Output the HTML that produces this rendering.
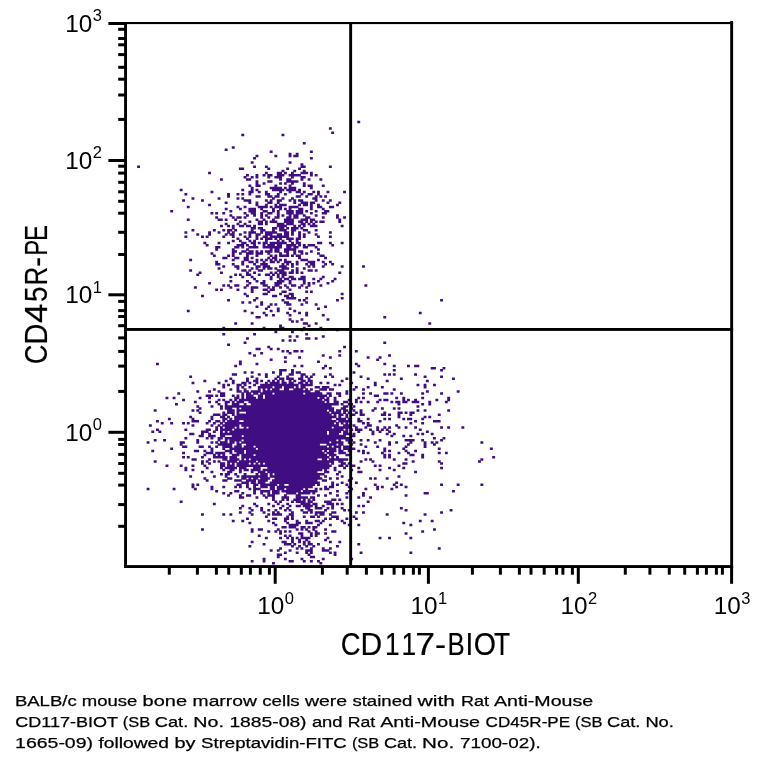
<!DOCTYPE html>
<html lang="en"><head><meta charset="utf-8"><title>CD117-BIOT vs CD45R-PE</title>
<style>
html,body{margin:0;padding:0;background:#fff}
body{width:758px;height:764px;overflow:hidden}
svg{display:block}
text{font-family:"Liberation Sans",sans-serif;fill:#000}
</style></head><body>
<svg width="758" height="764" viewBox="0 0 758 764">
<rect width="758" height="764" fill="#fff"/>
<g id="dots"><path d="M357.3 122.1h2.9M328.9 128.5h2.9M331.2 132.7h2.9M241.3 134.9h2.9M281.5 134.9h2.9M302.8 143.3h2.9M231.8 147.6h2.9M224.7 149.7h2.9M269.7 151.8h2.9M309.9 151.8h2.9M288.6 153.9h2.9M295.7 153.9h2.9M255.5 156.1h2.9M274.4 156.1h2.9M288.6 156.1h2.9M293.3 156.1h5.2M253.1 158.2h2.9M309.9 158.2h2.9M250.7 162.4h2.9M288.6 162.4h2.9M300.5 164.6h2.9M137.1 166.7h2.9M253.1 166.7h2.9M264.9 166.7h2.9M300.5 166.7h5.2M328.9 166.7h2.9M238.9 168.8h5.2M267.3 168.8h2.9M286.2 168.8h2.9M298.1 168.8h2.9M281.5 170.9h2.9M293.3 170.9h2.9M302.8 170.9h2.9M208.1 173.0h2.9M264.9 173.0h2.9M276.8 173.0h5.2M283.9 173.0h2.9M291.0 173.0h2.9M300.5 173.0h7.6M309.9 173.0h2.9M246.0 175.2h2.9M255.5 175.2h2.9M262.6 175.2h2.9M267.3 175.2h5.2M276.8 175.2h7.6M288.6 175.2h12.3M309.9 175.2h2.9M314.7 175.2h2.9M243.6 177.3h2.9M250.7 177.3h2.9M255.5 177.3h2.9M267.3 177.3h2.9M274.4 177.3h7.6M291.0 177.3h2.9M300.5 177.3h5.2M220.0 179.4h2.9M246.0 179.4h5.2M279.1 179.4h2.9M286.2 179.4h5.2M300.5 179.4h2.9M307.6 179.4h2.9M319.4 179.4h2.9M255.5 181.5h2.9M267.3 181.5h5.2M286.2 181.5h12.3M255.5 183.6h2.9M262.6 183.6h2.9M279.1 183.6h2.9M283.9 183.6h2.9M291.0 183.6h2.9M302.8 183.6h2.9M248.4 185.8h2.9M255.5 185.8h5.2M274.4 185.8h2.9M288.6 185.8h2.9M302.8 185.8h2.9M307.6 185.8h5.2M321.8 185.8h2.9M250.7 187.9h2.9M269.7 187.9h12.3M283.9 187.9h2.9M288.6 187.9h7.6M309.9 187.9h2.9M179.7 190.0h2.9M241.3 190.0h2.9M250.7 190.0h2.9M255.5 190.0h2.9M272.0 190.0h12.3M286.2 190.0h10.0M298.1 190.0h2.9M210.5 192.1h2.9M248.4 192.1h5.2M257.8 192.1h2.9M264.9 192.1h2.9M279.1 192.1h2.9M288.6 192.1h2.9M295.7 192.1h5.2M302.8 192.1h2.9M312.3 192.1h2.9M317.0 192.1h2.9M326.5 192.1h2.9M343.1 192.1h2.9M184.4 194.2h2.9M227.1 194.2h2.9M236.5 194.2h2.9M241.3 194.2h2.9M248.4 194.2h2.9M264.9 194.2h5.2M276.8 194.2h2.9M283.9 194.2h2.9M300.5 194.2h2.9M307.6 194.2h5.2M317.0 194.2h2.9M227.1 196.4h2.9M255.5 196.4h5.2M267.3 196.4h5.2M274.4 196.4h5.2M295.7 196.4h5.2M305.2 196.4h2.9M314.7 196.4h2.9M319.4 196.4h2.9M324.1 196.4h2.9M191.5 198.5h2.9M217.6 198.5h2.9M236.5 198.5h2.9M241.3 198.5h2.9M272.0 198.5h2.9M281.5 198.5h2.9M291.0 198.5h2.9M312.3 198.5h5.2M182.1 200.6h2.9M201.0 200.6h2.9M243.6 200.6h7.6M264.9 200.6h2.9M269.7 200.6h2.9M276.8 200.6h5.2M288.6 200.6h2.9M293.3 200.6h2.9M298.1 200.6h5.2M314.7 200.6h2.9M321.8 200.6h2.9M328.9 200.6h2.9M224.7 202.7h2.9M248.4 202.7h2.9M255.5 202.7h2.9M267.3 202.7h5.2M276.8 202.7h2.9M293.3 202.7h2.9M300.5 202.7h7.6M309.9 202.7h5.2M326.5 202.7h2.9M338.3 202.7h2.9M208.1 204.9h2.9M255.5 204.9h2.9M264.9 204.9h2.9M274.4 204.9h2.9M279.1 204.9h7.6M298.1 204.9h2.9M302.8 204.9h5.2M309.9 204.9h2.9M317.0 204.9h2.9M336.0 204.9h2.9M186.8 207.0h2.9M236.5 207.0h2.9M243.6 207.0h2.9M257.8 207.0h10.0M269.7 207.0h2.9M274.4 207.0h7.6M288.6 207.0h10.0M309.9 207.0h2.9M317.0 207.0h5.2M328.9 207.0h5.2M224.7 209.1h2.9M238.9 209.1h2.9M248.4 209.1h7.6M260.2 209.1h2.9M272.0 209.1h2.9M279.1 209.1h2.9M283.9 209.1h2.9M288.6 209.1h2.9M298.1 209.1h5.2M309.9 209.1h2.9M321.8 209.1h2.9M170.2 211.2h2.9M229.4 211.2h2.9M248.4 211.2h7.6M262.6 211.2h5.2M272.0 211.2h2.9M276.8 211.2h2.9M286.2 211.2h7.6M295.7 211.2h7.6M305.2 211.2h2.9M314.7 211.2h2.9M324.1 211.2h5.2M210.5 213.3h2.9M215.2 213.3h2.9M222.3 213.3h2.9M243.6 213.3h2.9M250.7 213.3h5.2M260.2 213.3h2.9M267.3 213.3h5.2M276.8 213.3h2.9M286.2 213.3h7.6M295.7 213.3h7.6M309.9 213.3h2.9M321.8 213.3h5.2M229.4 215.5h2.9M246.0 215.5h2.9M253.1 215.5h2.9M260.2 215.5h2.9M264.9 215.5h2.9M276.8 215.5h2.9M281.5 215.5h2.9M288.6 215.5h2.9M293.3 215.5h5.2M302.8 215.5h2.9M314.7 215.5h2.9M336.0 215.5h2.9M215.2 217.6h2.9M231.8 217.6h2.9M236.5 217.6h5.2M243.6 217.6h2.9M260.2 217.6h2.9M267.3 217.6h2.9M274.4 217.6h5.2M286.2 217.6h5.2M293.3 217.6h5.2M305.2 217.6h5.2M321.8 217.6h2.9M336.0 217.6h2.9M343.1 217.6h2.9M186.8 219.7h2.9M217.6 219.7h5.2M224.7 219.7h2.9M234.2 219.7h2.9M255.5 219.7h2.9M262.6 219.7h2.9M272.0 219.7h2.9M283.9 219.7h10.0M300.5 219.7h7.6M309.9 219.7h5.2M338.3 219.7h2.9M238.9 221.8h2.9M248.4 221.8h2.9M257.8 221.8h5.2M264.9 221.8h2.9M269.7 221.8h7.6M283.9 221.8h10.0M298.1 221.8h5.2M305.2 221.8h2.9M309.9 221.8h2.9M314.7 221.8h2.9M319.4 221.8h5.2M338.3 221.8h2.9M224.7 223.9h2.9M236.5 223.9h2.9M243.6 223.9h2.9M257.8 223.9h5.2M264.9 223.9h2.9M276.8 223.9h7.6M286.2 223.9h7.6M300.5 223.9h5.2M307.6 223.9h2.9M312.3 223.9h2.9M220.0 226.1h2.9M227.1 226.1h2.9M231.8 226.1h2.9M238.9 226.1h5.2M246.0 226.1h5.2M253.1 226.1h2.9M276.8 226.1h10.0M293.3 226.1h2.9M298.1 226.1h2.9M302.8 226.1h2.9M309.9 226.1h7.6M340.7 226.1h2.9M231.8 228.2h2.9M250.7 228.2h5.2M257.8 228.2h5.2M272.0 228.2h5.2M279.1 228.2h5.2M286.2 228.2h2.9M291.0 228.2h7.6M300.5 228.2h2.9M191.5 230.3h2.9M212.9 230.3h2.9M222.3 230.3h2.9M227.1 230.3h5.2M234.2 230.3h2.9M250.7 230.3h2.9M260.2 230.3h5.2M272.0 230.3h2.9M279.1 230.3h7.6M291.0 230.3h5.2M302.8 230.3h5.2M314.7 230.3h2.9M184.4 232.4h2.9M208.1 232.4h2.9M217.6 232.4h2.9M227.1 232.4h2.9M231.8 232.4h2.9M243.6 232.4h2.9M248.4 232.4h7.6M260.2 232.4h2.9M264.9 232.4h12.3M283.9 232.4h5.2M291.0 232.4h2.9M298.1 232.4h2.9M307.6 232.4h2.9M328.9 232.4h2.9M196.3 234.5h2.9M208.1 234.5h2.9M224.7 234.5h2.9M229.4 234.5h5.2M238.9 234.5h2.9M248.4 234.5h2.9M255.5 234.5h5.2M264.9 234.5h7.6M276.8 234.5h5.2M283.9 234.5h5.2M291.0 234.5h2.9M298.1 234.5h2.9M302.8 234.5h2.9M314.7 234.5h2.9M184.4 236.7h2.9M201.0 236.7h2.9M205.7 236.7h2.9M222.3 236.7h2.9M231.8 236.7h2.9M243.6 236.7h2.9M248.4 236.7h2.9M255.5 236.7h2.9M262.6 236.7h5.2M269.7 236.7h19.4M298.1 236.7h2.9M302.8 236.7h2.9M317.0 236.7h2.9M328.9 236.7h2.9M236.5 238.8h2.9M246.0 238.8h2.9M255.5 238.8h2.9M260.2 238.8h2.9M264.9 238.8h7.6M274.4 238.8h2.9M279.1 238.8h2.9M286.2 238.8h7.6M295.7 238.8h5.2M231.8 240.9h2.9M238.9 240.9h2.9M248.4 240.9h2.9M253.1 240.9h2.9M264.9 240.9h2.9M276.8 240.9h2.9M281.5 240.9h2.9M288.6 240.9h2.9M295.7 240.9h2.9M203.4 243.0h2.9M217.6 243.0h2.9M227.1 243.0h2.9M241.3 243.0h5.2M250.7 243.0h5.2M257.8 243.0h2.9M262.6 243.0h5.2M269.7 243.0h17.1M291.0 243.0h2.9M295.7 243.0h5.2M317.0 243.0h5.2M328.9 243.0h2.9M340.7 243.0h2.9M205.7 245.2h2.9M236.5 245.2h7.6M246.0 245.2h2.9M253.1 245.2h2.9M262.6 245.2h2.9M267.3 245.2h7.6M276.8 245.2h5.2M286.2 245.2h10.0M298.1 245.2h2.9M302.8 245.2h2.9M307.6 245.2h7.6M331.2 245.2h2.9M215.2 247.3h5.2M234.2 247.3h5.2M241.3 247.3h2.9M248.4 247.3h10.0M262.6 247.3h19.4M286.2 247.3h5.2M293.3 247.3h5.2M302.8 247.3h5.2M314.7 247.3h2.9M215.2 249.4h2.9M231.8 249.4h2.9M246.0 249.4h2.9M269.7 249.4h2.9M274.4 249.4h5.2M283.9 249.4h12.3M317.0 249.4h2.9M231.8 251.5h5.2M241.3 251.5h5.2M248.4 251.5h5.2M255.5 251.5h2.9M260.2 251.5h2.9M264.9 251.5h7.6M274.4 251.5h5.2M283.9 251.5h5.2M293.3 251.5h2.9M298.1 251.5h5.2M309.9 251.5h2.9M210.5 253.6h2.9M231.8 253.6h2.9M238.9 253.6h2.9M246.0 253.6h7.6M255.5 253.6h7.6M267.3 253.6h2.9M279.1 253.6h2.9M286.2 253.6h2.9M293.3 253.6h2.9M300.5 253.6h2.9M305.2 253.6h2.9M317.0 253.6h2.9M212.9 255.8h2.9M227.1 255.8h2.9M231.8 255.8h2.9M246.0 255.8h2.9M255.5 255.8h2.9M269.7 255.8h2.9M274.4 255.8h2.9M279.1 255.8h10.0M291.0 255.8h2.9M295.7 255.8h5.2M319.4 255.8h5.2M222.3 257.9h5.2M234.2 257.9h5.2M243.6 257.9h5.2M250.7 257.9h2.9M267.3 257.9h2.9M272.0 257.9h5.2M298.1 257.9h2.9M324.1 257.9h2.9M189.2 260.0h2.9M231.8 260.0h2.9M243.6 260.0h5.2M255.5 260.0h2.9M260.2 260.0h2.9M264.9 260.0h2.9M269.7 260.0h2.9M274.4 260.0h2.9M279.1 260.0h2.9M283.9 260.0h2.9M300.5 260.0h7.6M317.0 260.0h2.9M215.2 262.1h2.9M241.3 262.1h2.9M248.4 262.1h5.2M255.5 262.1h2.9M262.6 262.1h2.9M269.7 262.1h5.2M276.8 262.1h2.9M283.9 262.1h7.6M295.7 262.1h2.9M307.6 262.1h7.6M321.8 262.1h2.9M328.9 262.1h2.9M215.2 264.2h5.2M231.8 264.2h2.9M241.3 264.2h2.9M253.1 264.2h2.9M260.2 264.2h7.6M281.5 264.2h2.9M286.2 264.2h2.9M291.0 264.2h2.9M295.7 264.2h2.9M305.2 264.2h2.9M309.9 264.2h5.2M324.1 264.2h2.9M331.2 264.2h2.9M222.3 266.4h2.9M234.2 266.4h5.2M246.0 266.4h2.9M255.5 266.4h5.2M262.6 266.4h7.6M279.1 266.4h7.6M291.0 266.4h2.9M307.6 266.4h2.9M312.3 266.4h2.9M321.8 266.4h2.9M340.7 266.4h2.9M362.0 266.4h2.9M217.6 268.5h2.9M236.5 268.5h2.9M250.7 268.5h2.9M255.5 268.5h2.9M262.6 268.5h2.9M267.3 268.5h5.2M274.4 268.5h2.9M281.5 268.5h7.6M295.7 268.5h2.9M302.8 268.5h2.9M189.2 270.6h2.9M241.3 270.6h5.2M248.4 270.6h2.9M257.8 270.6h5.2M276.8 270.6h7.6M291.0 270.6h2.9M295.7 270.6h2.9M307.6 270.6h5.2M314.7 270.6h2.9M198.6 272.7h2.9M220.0 272.7h2.9M246.0 272.7h2.9M253.1 272.7h2.9M269.7 272.7h2.9M274.4 272.7h2.9M279.1 272.7h7.6M288.6 272.7h5.2M295.7 272.7h2.9M300.5 272.7h2.9M338.3 272.7h2.9M196.3 274.8h2.9M234.2 274.8h2.9M238.9 274.8h2.9M246.0 274.8h5.2M257.8 274.8h2.9M264.9 274.8h5.2M272.0 274.8h2.9M276.8 274.8h2.9M281.5 274.8h5.2M229.4 277.0h2.9M241.3 277.0h2.9M250.7 277.0h2.9M269.7 277.0h2.9M276.8 277.0h2.9M281.5 277.0h2.9M288.6 277.0h5.2M300.5 277.0h5.2M321.8 277.0h2.9M253.1 279.1h2.9M269.7 279.1h2.9M279.1 279.1h2.9M283.9 279.1h5.2M291.0 279.1h5.2M298.1 279.1h7.6M312.3 279.1h2.9M319.4 279.1h2.9M333.6 279.1h2.9M229.4 281.2h2.9M246.0 281.2h2.9M255.5 281.2h2.9M262.6 281.2h2.9M276.8 281.2h7.6M288.6 281.2h2.9M302.8 281.2h2.9M317.0 281.2h2.9M331.2 281.2h2.9M208.1 283.3h2.9M248.4 283.3h2.9M260.2 283.3h5.2M274.4 283.3h7.6M288.6 283.3h2.9M302.8 283.3h2.9M307.6 283.3h2.9M312.3 283.3h2.9M326.5 283.3h2.9M222.3 285.5h2.9M227.1 285.5h2.9M234.2 285.5h5.2M246.0 285.5h2.9M262.6 285.5h5.2M274.4 285.5h5.2M283.9 285.5h2.9M291.0 285.5h5.2M300.5 285.5h2.9M307.6 285.5h2.9M319.4 285.5h2.9M364.4 285.5h2.9M193.9 287.6h2.9M229.4 287.6h2.9M243.6 287.6h2.9M250.7 287.6h7.6M267.3 287.6h2.9M272.0 287.6h2.9M279.1 287.6h2.9M286.2 287.6h2.9M298.1 287.6h2.9M305.2 287.6h2.9M215.2 289.7h2.9M220.0 289.7h2.9M236.5 289.7h2.9M250.7 289.7h2.9M262.6 289.7h5.2M269.7 289.7h5.2M288.6 289.7h2.9M250.7 291.8h2.9M267.3 291.8h2.9M281.5 291.8h5.2M305.2 291.8h2.9M309.9 291.8h2.9M243.6 293.9h2.9M262.6 293.9h5.2M279.1 293.9h2.9M288.6 293.9h5.2M340.7 293.9h2.9M201.0 296.1h2.9M246.0 296.1h2.9M272.0 296.1h5.2M283.9 296.1h5.2M291.0 296.1h2.9M255.5 298.2h2.9M286.2 298.2h10.0M305.2 298.2h2.9M340.7 298.2h2.9M227.1 300.3h2.9M253.1 300.3h2.9M281.5 300.3h2.9M298.1 300.3h2.9M302.8 300.3h2.9M336.0 300.3h2.9M440.1 300.3h2.9M241.3 302.4h2.9M248.4 302.4h2.9M260.2 302.4h2.9M283.9 302.4h5.2M305.2 302.4h2.9M260.2 304.5h2.9M269.7 304.5h2.9M274.4 304.5h2.9M286.2 304.5h5.2M300.5 304.5h2.9M314.7 304.5h2.9M255.5 306.7h2.9M267.3 306.7h2.9M324.1 306.7h2.9M264.9 308.8h2.9M276.8 308.8h2.9M288.6 308.8h2.9M317.0 308.8h2.9M186.8 310.9h2.9M243.6 310.9h2.9M269.7 310.9h2.9M276.8 310.9h2.9M293.3 310.9h2.9M250.7 313.0h2.9M262.6 313.0h2.9M286.2 313.0h2.9M298.1 313.0h2.9M305.2 313.0h2.9M418.8 313.0h2.9M264.9 315.2h2.9M272.0 315.2h2.9M288.6 315.2h2.9M305.2 315.2h2.9M321.8 315.2h2.9M255.5 317.3h5.2M383.3 317.3h2.9M288.6 319.4h2.9M300.5 319.4h2.9M326.5 319.4h2.9M291.0 321.5h2.9M295.7 321.5h2.9M234.2 323.6h2.9M250.7 323.6h2.9M302.8 323.6h5.2M314.7 323.6h2.9M428.3 323.6h2.9M279.1 325.8h2.9M307.6 325.8h2.9M222.3 327.9h2.9M262.6 327.9h2.9M279.1 327.9h5.2M302.8 327.9h2.9M319.4 327.9h2.9M300.5 330.0h2.9M336.0 330.0h2.9M274.4 332.1h2.9M291.0 332.1h2.9M222.3 334.2h2.9M253.1 334.2h2.9M305.2 334.2h2.9M288.6 336.4h2.9M295.7 336.4h2.9M321.8 336.4h2.9M246.0 338.5h2.9M305.2 338.5h5.2M314.7 338.5h2.9M281.5 340.6h2.9M288.6 340.6h2.9M293.3 340.6h2.9M243.6 342.7h2.9M383.3 342.7h2.9M227.1 344.8h2.9M267.3 347.0h2.9M343.1 347.0h2.9M255.5 349.1h5.2M269.7 349.1h2.9M276.8 349.1h2.9M281.5 351.2h2.9M286.2 351.2h2.9M293.3 351.2h5.2M300.5 351.2h2.9M338.3 351.2h2.9M354.9 351.2h2.9M248.4 353.3h2.9M260.2 353.3h2.9M288.6 353.3h2.9M253.1 355.5h2.9M321.8 355.5h2.9M338.3 355.5h2.9M388.1 355.5h2.9M283.9 357.6h2.9M298.1 357.6h2.9M328.9 357.6h2.9M366.7 357.6h2.9M378.6 357.6h2.9M269.7 359.7h2.9M376.2 359.7h2.9M238.9 361.8h2.9M283.9 361.8h2.9M317.0 361.8h2.9M156.0 363.9h2.9M238.9 363.9h2.9M255.5 363.9h2.9M354.9 363.9h2.9M383.3 363.9h2.9M234.2 366.1h2.9M293.3 366.1h2.9M300.5 366.1h2.9M324.1 366.1h2.9M357.3 366.1h2.9M392.8 366.1h2.9M407.0 366.1h2.9M414.1 366.1h5.2M321.8 368.2h2.9M328.9 368.2h2.9M430.7 368.2h5.2M442.5 368.2h2.9M279.1 370.3h7.6M291.0 370.3h2.9M392.8 370.3h2.9M440.1 370.3h2.9M243.6 372.4h2.9M250.7 372.4h2.9M272.0 372.4h2.9M279.1 372.4h2.9M291.0 372.4h2.9M295.7 372.4h5.2M352.5 372.4h2.9M231.8 374.5h5.2M257.8 374.5h2.9M264.9 374.5h2.9M279.1 374.5h2.9M288.6 374.5h5.2M300.5 374.5h5.2M312.3 374.5h2.9M328.9 374.5h2.9M383.3 374.5h2.9M388.1 374.5h2.9M392.8 374.5h2.9M414.1 374.5h2.9M189.2 376.7h2.9M250.7 376.7h2.9M264.9 376.7h2.9M276.8 376.7h2.9M286.2 376.7h2.9M300.5 376.7h2.9M305.2 376.7h2.9M309.9 376.7h2.9M324.1 376.7h2.9M331.2 376.7h2.9M359.6 376.7h2.9M423.6 376.7h2.9M440.1 376.7h2.9M229.4 378.8h2.9M246.0 378.8h2.9M255.5 378.8h2.9M274.4 378.8h2.9M279.1 378.8h5.2M286.2 378.8h7.6M298.1 378.8h5.2M307.6 378.8h2.9M345.4 378.8h2.9M366.7 378.8h2.9M399.9 378.8h2.9M452.0 378.8h2.9M203.4 380.9h2.9M224.7 380.9h2.9M231.8 380.9h2.9M246.0 380.9h2.9M253.1 380.9h5.2M260.2 380.9h2.9M267.3 380.9h2.9M272.0 380.9h2.9M276.8 380.9h2.9M281.5 380.9h2.9M288.6 380.9h2.9M293.3 380.9h2.9M300.5 380.9h5.2M307.6 380.9h5.2M340.7 380.9h2.9M385.7 380.9h2.9M425.9 380.9h2.9M191.5 383.0h2.9M217.6 383.0h2.9M231.8 383.0h2.9M241.3 383.0h5.2M248.4 383.0h2.9M255.5 383.0h2.9M264.9 383.0h2.9M269.7 383.0h10.0M281.5 383.0h5.2M288.6 383.0h5.2M298.1 383.0h5.2M305.2 383.0h2.9M309.9 383.0h2.9M319.4 383.0h2.9M326.5 383.0h2.9M350.2 383.0h2.9M373.8 383.0h2.9M222.3 385.1h2.9M227.1 385.1h2.9M236.5 385.1h5.2M243.6 385.1h2.9M253.1 385.1h2.9M260.2 385.1h38.4M300.5 385.1h12.3M333.6 385.1h2.9M338.3 385.1h2.9M373.8 385.1h2.9M416.5 385.1h2.9M423.6 385.1h2.9M433.0 385.1h2.9M222.3 387.3h2.9M236.5 387.3h2.9M241.3 387.3h2.9M248.4 387.3h2.9M257.8 387.3h14.7M274.4 387.3h7.6M283.9 387.3h10.0M295.7 387.3h2.9M300.5 387.3h5.2M314.7 387.3h5.2M321.8 387.3h7.6M354.9 387.3h2.9M366.7 387.3h2.9M380.9 387.3h2.9M423.6 387.3h2.9M212.9 389.4h2.9M229.4 389.4h2.9M236.5 389.4h2.9M243.6 389.4h2.9M257.8 389.4h2.9M262.6 389.4h2.9M267.3 389.4h2.9M272.0 389.4h7.6M283.9 389.4h5.2M293.3 389.4h10.0M305.2 389.4h2.9M309.9 389.4h2.9M319.4 389.4h7.6M328.9 389.4h5.2M352.5 389.4h2.9M362.0 389.4h2.9M392.8 389.4h2.9M196.3 391.5h2.9M208.1 391.5h2.9M217.6 391.5h2.9M236.5 391.5h5.2M243.6 391.5h5.2M250.7 391.5h10.0M262.6 391.5h47.9M314.7 391.5h5.2M345.4 391.5h2.9M425.9 391.5h2.9M456.7 391.5h2.9M177.3 393.6h2.9M220.0 393.6h5.2M241.3 393.6h2.9M246.0 393.6h5.2M253.1 393.6h5.2M260.2 393.6h12.3M274.4 393.6h28.9M305.2 393.6h17.1M326.5 393.6h5.2M336.0 393.6h5.2M345.4 393.6h2.9M362.0 393.6h2.9M369.1 393.6h2.9M383.3 393.6h5.2M390.4 393.6h2.9M399.9 393.6h2.9M421.2 393.6h2.9M440.1 393.6h2.9M205.7 395.8h7.6M215.2 395.8h2.9M220.0 395.8h5.2M231.8 395.8h2.9M236.5 395.8h2.9M241.3 395.8h2.9M246.0 395.8h7.6M257.8 395.8h5.2M264.9 395.8h62.1M328.9 395.8h2.9M338.3 395.8h2.9M373.8 395.8h5.2M165.5 397.9h2.9M172.6 397.9h2.9M198.6 397.9h2.9M208.1 397.9h2.9M234.2 397.9h5.2M241.3 397.9h2.9M246.0 397.9h10.0M257.8 397.9h5.2M264.9 397.9h52.6M319.4 397.9h5.2M326.5 397.9h2.9M333.6 397.9h2.9M357.3 397.9h2.9M362.0 397.9h2.9M395.2 397.9h2.9M402.3 397.9h2.9M421.2 397.9h2.9M447.2 397.9h2.9M182.1 400.0h2.9M217.6 400.0h2.9M222.3 400.0h2.9M229.4 400.0h2.9M234.2 400.0h2.9M238.9 400.0h83.4M324.1 400.0h5.2M333.6 400.0h2.9M347.8 400.0h2.9M354.9 400.0h2.9M378.6 400.0h2.9M383.3 400.0h5.2M402.3 400.0h2.9M407.0 400.0h2.9M414.1 400.0h2.9M435.4 400.0h2.9M447.2 400.0h2.9M193.9 402.1h2.9M208.1 402.1h2.9M215.2 402.1h2.9M224.7 402.1h5.2M231.8 402.1h2.9M236.5 402.1h7.6M248.4 402.1h76.3M326.5 402.1h2.9M333.6 402.1h5.2M343.1 402.1h5.2M354.9 402.1h2.9M359.6 402.1h2.9M366.7 402.1h2.9M376.2 402.1h2.9M390.4 402.1h2.9M395.2 402.1h5.2M402.3 402.1h5.2M411.7 402.1h7.6M428.3 402.1h2.9M444.9 402.1h2.9M175.0 404.2h2.9M217.6 404.2h2.9M224.7 404.2h2.9M231.8 404.2h7.6M243.6 404.2h2.9M250.7 404.2h88.1M340.7 404.2h2.9M347.8 404.2h5.2M397.5 404.2h2.9M421.2 404.2h2.9M428.3 404.2h2.9M196.3 406.4h2.9M210.5 406.4h2.9M220.0 406.4h2.9M224.7 406.4h107.0M343.1 406.4h5.2M352.5 406.4h2.9M416.5 406.4h2.9M198.6 408.5h2.9M220.0 408.5h2.9M224.7 408.5h7.6M236.5 408.5h2.9M241.3 408.5h92.8M340.7 408.5h5.2M350.2 408.5h2.9M373.8 408.5h2.9M380.9 408.5h2.9M392.8 408.5h2.9M397.5 408.5h2.9M153.7 410.6h2.9M191.5 410.6h2.9M196.3 410.6h2.9M227.1 410.6h7.6M236.5 410.6h90.5M328.9 410.6h5.2M336.0 410.6h5.2M343.1 410.6h5.2M352.5 410.6h2.9M359.6 410.6h2.9M371.5 410.6h2.9M416.5 410.6h2.9M423.6 410.6h2.9M447.2 410.6h2.9M198.6 412.7h2.9M222.3 412.7h2.9M227.1 412.7h7.6M236.5 412.7h2.9M246.0 412.7h83.4M331.2 412.7h10.0M343.1 412.7h2.9M347.8 412.7h2.9M354.9 412.7h2.9M359.6 412.7h2.9M383.3 412.7h2.9M397.5 412.7h5.2M404.6 412.7h2.9M409.4 412.7h5.2M212.9 414.8h7.6M222.3 414.8h5.2M231.8 414.8h2.9M236.5 414.8h95.2M333.6 414.8h2.9M338.3 414.8h5.2M345.4 414.8h2.9M350.2 414.8h5.2M359.6 414.8h5.2M380.9 414.8h5.2M388.1 414.8h2.9M397.5 414.8h2.9M409.4 414.8h2.9M437.8 414.8h2.9M189.2 417.0h2.9M210.5 417.0h2.9M220.0 417.0h5.2M227.1 417.0h2.9M234.2 417.0h102.3M338.3 417.0h2.9M345.4 417.0h2.9M397.5 417.0h2.9M423.6 417.0h2.9M428.3 417.0h2.9M167.9 419.1h2.9M191.5 419.1h2.9M210.5 419.1h2.9M222.3 419.1h5.2M229.4 419.1h2.9M234.2 419.1h97.6M336.0 419.1h10.0M347.8 419.1h2.9M357.3 419.1h2.9M366.7 419.1h2.9M383.3 419.1h2.9M388.1 419.1h2.9M402.3 419.1h2.9M407.0 419.1h5.2M421.2 419.1h2.9M156.0 421.2h2.9M191.5 421.2h7.6M208.1 421.2h2.9M215.2 421.2h5.2M222.3 421.2h2.9M227.1 421.2h12.3M243.6 421.2h92.8M338.3 421.2h12.3M357.3 421.2h5.2M378.6 421.2h2.9M414.1 421.2h2.9M433.0 421.2h7.6M160.8 423.3h2.9M170.2 423.3h2.9M182.1 423.3h2.9M186.8 423.3h2.9M205.7 423.3h2.9M212.9 423.3h2.9M220.0 423.3h2.9M224.7 423.3h109.4M336.0 423.3h2.9M340.7 423.3h2.9M345.4 423.3h2.9M362.0 423.3h2.9M366.7 423.3h2.9M409.4 423.3h2.9M421.2 423.3h2.9M148.9 425.4h2.9M191.5 425.4h2.9M210.5 425.4h2.9M217.6 425.4h2.9M222.3 425.4h17.1M241.3 425.4h97.6M343.1 425.4h7.6M352.5 425.4h2.9M366.7 425.4h5.2M395.2 425.4h2.9M215.2 427.6h2.9M220.0 427.6h2.9M224.7 427.6h10.0M236.5 427.6h2.9M243.6 427.6h2.9M248.4 427.6h83.4M333.6 427.6h17.1M354.9 427.6h2.9M364.4 427.6h2.9M376.2 427.6h2.9M383.3 427.6h2.9M388.1 427.6h2.9M397.5 427.6h2.9M404.6 427.6h2.9M414.1 427.6h2.9M440.1 427.6h2.9M447.2 427.6h2.9M461.4 427.6h2.9M156.0 429.7h2.9M184.4 429.7h2.9M205.7 429.7h5.2M215.2 429.7h2.9M220.0 429.7h12.3M234.2 429.7h109.4M345.4 429.7h2.9M350.2 429.7h2.9M354.9 429.7h7.6M369.1 429.7h2.9M376.2 429.7h2.9M380.9 429.7h2.9M385.7 429.7h2.9M418.8 429.7h2.9M151.3 431.8h2.9M158.4 431.8h2.9M201.0 431.8h7.6M212.9 431.8h2.9M220.0 431.8h2.9M224.7 431.8h2.9M229.4 431.8h97.6M328.9 431.8h12.3M343.1 431.8h5.2M357.3 431.8h2.9M371.5 431.8h2.9M378.6 431.8h2.9M388.1 431.8h2.9M425.9 431.8h2.9M189.2 433.9h5.2M201.0 433.9h2.9M208.1 433.9h2.9M220.0 433.9h107.0M328.9 433.9h10.0M343.1 433.9h7.6M352.5 433.9h2.9M371.5 433.9h2.9M385.7 433.9h2.9M392.8 433.9h2.9M416.5 433.9h2.9M421.2 433.9h2.9M430.7 433.9h2.9M198.6 436.1h5.2M208.1 436.1h7.6M220.0 436.1h5.2M231.8 436.1h10.0M243.6 436.1h102.3M350.2 436.1h5.2M390.4 436.1h2.9M402.3 436.1h2.9M409.4 436.1h2.9M184.4 438.2h2.9M205.7 438.2h2.9M210.5 438.2h2.9M217.6 438.2h5.2M224.7 438.2h126.0M433.0 438.2h2.9M442.5 438.2h2.9M153.7 440.3h2.9M163.1 440.3h2.9M196.3 440.3h2.9M217.6 440.3h2.9M224.7 440.3h2.9M229.4 440.3h12.3M243.6 440.3h92.8M338.3 440.3h2.9M345.4 440.3h7.6M359.6 440.3h2.9M366.7 440.3h2.9M378.6 440.3h2.9M404.6 440.3h10.0M421.2 440.3h2.9M440.1 440.3h2.9M146.6 442.4h2.9M179.7 442.4h5.2M196.3 442.4h2.9M210.5 442.4h2.9M215.2 442.4h2.9M220.0 442.4h7.6M229.4 442.4h5.2M236.5 442.4h2.9M241.3 442.4h88.1M331.2 442.4h12.3M347.8 442.4h2.9M352.5 442.4h2.9M373.8 442.4h2.9M388.1 442.4h2.9M395.2 442.4h2.9M409.4 442.4h2.9M423.6 442.4h2.9M430.7 442.4h2.9M435.4 442.4h2.9M480.4 442.4h2.9M179.7 444.5h2.9M217.6 444.5h14.7M236.5 444.5h5.2M246.0 444.5h73.9M326.5 444.5h10.0M338.3 444.5h5.2M350.2 444.5h2.9M359.6 444.5h2.9M388.1 444.5h2.9M407.0 444.5h2.9M423.6 444.5h2.9M433.0 444.5h2.9M182.1 446.7h5.2M198.6 446.7h5.2M208.1 446.7h2.9M215.2 446.7h2.9M222.3 446.7h10.0M234.2 446.7h7.6M243.6 446.7h10.0M255.5 446.7h71.5M328.9 446.7h2.9M333.6 446.7h7.6M343.1 446.7h7.6M364.4 446.7h2.9M376.2 446.7h2.9M404.6 446.7h2.9M423.6 446.7h2.9M170.2 448.8h2.9M210.5 448.8h2.9M222.3 448.8h2.9M229.4 448.8h26.5M257.8 448.8h78.6M338.3 448.8h2.9M343.1 448.8h12.3M383.3 448.8h2.9M402.3 448.8h2.9M437.8 448.8h2.9M489.9 448.8h2.9M151.3 450.9h2.9M193.9 450.9h5.2M203.4 450.9h2.9M210.5 450.9h2.9M224.7 450.9h7.6M234.2 450.9h10.0M246.0 450.9h76.3M324.1 450.9h2.9M328.9 450.9h7.6M338.3 450.9h5.2M347.8 450.9h2.9M357.3 450.9h2.9M362.0 450.9h2.9M383.3 450.9h2.9M388.1 450.9h2.9M404.6 450.9h2.9M414.1 450.9h2.9M182.1 453.0h2.9M205.7 453.0h7.6M215.2 453.0h10.0M229.4 453.0h2.9M236.5 453.0h7.6M246.0 453.0h78.6M326.5 453.0h7.6M338.3 453.0h7.6M362.0 453.0h2.9M366.7 453.0h2.9M380.9 453.0h2.9M397.5 453.0h2.9M407.0 453.0h2.9M437.8 453.0h2.9M444.9 453.0h2.9M203.4 455.1h2.9M212.9 455.1h2.9M217.6 455.1h2.9M222.3 455.1h2.9M231.8 455.1h7.6M241.3 455.1h12.3M255.5 455.1h71.5M328.9 455.1h7.6M345.4 455.1h5.2M383.3 455.1h2.9M388.1 455.1h2.9M409.4 455.1h5.2M421.2 455.1h2.9M182.1 457.3h2.9M186.8 457.3h2.9M201.0 457.3h2.9M212.9 457.3h14.7M229.4 457.3h7.6M241.3 457.3h88.1M331.2 457.3h2.9M336.0 457.3h2.9M383.3 457.3h2.9M388.1 457.3h2.9M421.2 457.3h2.9M492.2 457.3h2.9M191.5 459.4h5.2M208.1 459.4h2.9M222.3 459.4h5.2M229.4 459.4h10.0M241.3 459.4h2.9M246.0 459.4h2.9M250.7 459.4h66.8M321.8 459.4h5.2M328.9 459.4h19.4M364.4 459.4h2.9M369.1 459.4h2.9M392.8 459.4h2.9M404.6 459.4h2.9M480.4 459.4h2.9M153.7 461.5h2.9M201.0 461.5h2.9M205.7 461.5h2.9M212.9 461.5h2.9M217.6 461.5h2.9M227.1 461.5h10.0M238.9 461.5h17.1M257.8 461.5h76.3M338.3 461.5h5.2M359.6 461.5h2.9M371.5 461.5h2.9M411.7 461.5h2.9M437.8 461.5h2.9M478.0 461.5h2.9M201.0 463.6h2.9M208.1 463.6h2.9M220.0 463.6h5.2M227.1 463.6h2.9M231.8 463.6h2.9M236.5 463.6h12.3M250.7 463.6h2.9M255.5 463.6h2.9M260.2 463.6h2.9M264.9 463.6h64.4M331.2 463.6h2.9M340.7 463.6h5.2M347.8 463.6h2.9M402.3 463.6h5.2M440.1 463.6h2.9M165.5 465.7h2.9M179.7 465.7h2.9M191.5 465.7h2.9M203.4 465.7h2.9M220.0 465.7h5.2M227.1 465.7h7.6M236.5 465.7h95.2M338.3 465.7h5.2M345.4 465.7h2.9M350.2 465.7h5.2M373.8 465.7h2.9M378.6 465.7h2.9M397.5 465.7h2.9M184.4 467.9h2.9M205.7 467.9h2.9M220.0 467.9h2.9M224.7 467.9h12.3M238.9 467.9h7.6M253.1 467.9h7.6M267.3 467.9h62.1M333.6 467.9h2.9M343.1 467.9h2.9M357.3 467.9h2.9M388.1 467.9h2.9M402.3 467.9h2.9M440.1 467.9h2.9M184.4 470.0h2.9M191.5 470.0h2.9M222.3 470.0h2.9M229.4 470.0h5.2M238.9 470.0h2.9M243.6 470.0h5.2M250.7 470.0h10.0M262.6 470.0h59.7M324.1 470.0h2.9M333.6 470.0h2.9M350.2 470.0h2.9M378.6 470.0h2.9M392.8 470.0h2.9M201.0 472.1h2.9M210.5 472.1h2.9M227.1 472.1h5.2M238.9 472.1h2.9M250.7 472.1h2.9M257.8 472.1h7.6M267.3 472.1h50.2M324.1 472.1h5.2M338.3 472.1h2.9M357.3 472.1h5.2M414.1 472.1h2.9M220.0 474.2h2.9M224.7 474.2h5.2M234.2 474.2h2.9M243.6 474.2h2.9M255.5 474.2h2.9M260.2 474.2h7.6M269.7 474.2h2.9M274.4 474.2h50.2M336.0 474.2h2.9M189.2 476.4h2.9M212.9 476.4h2.9M224.7 476.4h2.9M236.5 476.4h2.9M241.3 476.4h26.5M269.7 476.4h50.2M324.1 476.4h2.9M340.7 476.4h2.9M397.5 476.4h2.9M203.4 478.5h2.9M227.1 478.5h5.2M241.3 478.5h5.2M248.4 478.5h2.9M253.1 478.5h5.2M260.2 478.5h10.0M274.4 478.5h47.9M328.9 478.5h2.9M336.0 478.5h2.9M350.2 478.5h2.9M369.1 478.5h2.9M373.8 478.5h2.9M385.7 478.5h2.9M205.7 480.6h2.9M222.3 480.6h5.2M234.2 480.6h7.6M246.0 480.6h10.0M257.8 480.6h10.0M272.0 480.6h45.5M321.8 480.6h5.2M347.8 480.6h2.9M241.3 482.7h7.6M250.7 482.7h5.2M257.8 482.7h7.6M269.7 482.7h50.2M331.2 482.7h2.9M340.7 482.7h2.9M354.9 482.7h2.9M395.2 482.7h2.9M191.5 484.8h2.9M196.3 484.8h2.9M236.5 484.8h5.2M246.0 484.8h2.9M253.1 484.8h5.2M260.2 484.8h17.1M279.1 484.8h5.2M288.6 484.8h26.5M317.0 484.8h2.9M331.2 484.8h2.9M336.0 484.8h2.9M345.4 484.8h2.9M373.8 484.8h2.9M392.8 484.8h2.9M399.9 484.8h2.9M440.1 484.8h2.9M456.7 484.8h2.9M480.4 484.8h2.9M191.5 487.0h2.9M210.5 487.0h2.9M222.3 487.0h2.9M234.2 487.0h2.9M238.9 487.0h2.9M246.0 487.0h2.9M253.1 487.0h2.9M260.2 487.0h7.6M269.7 487.0h5.2M276.8 487.0h36.0M324.1 487.0h2.9M328.9 487.0h5.2M347.8 487.0h2.9M376.2 487.0h2.9M380.9 487.0h2.9M395.2 487.0h2.9M404.6 487.0h2.9M146.6 489.1h2.9M172.6 489.1h2.9M193.9 489.1h2.9M210.5 489.1h2.9M248.4 489.1h2.9M253.1 489.1h7.6M269.7 489.1h5.2M276.8 489.1h7.6M286.2 489.1h17.1M305.2 489.1h2.9M314.7 489.1h2.9M319.4 489.1h2.9M324.1 489.1h5.2M350.2 489.1h2.9M364.4 489.1h2.9M376.2 489.1h2.9M390.4 489.1h2.9M215.2 491.2h2.9M234.2 491.2h5.2M253.1 491.2h2.9M260.2 491.2h10.0M272.0 491.2h7.6M281.5 491.2h19.4M302.8 491.2h14.7M336.0 491.2h2.9M347.8 491.2h2.9M452.0 491.2h2.9M222.3 493.3h2.9M229.4 493.3h2.9M241.3 493.3h2.9M253.1 493.3h2.9M260.2 493.3h2.9M267.3 493.3h2.9M272.0 493.3h7.6M286.2 493.3h10.0M298.1 493.3h12.3M312.3 493.3h2.9M328.9 493.3h2.9M345.4 493.3h2.9M362.0 493.3h2.9M423.6 493.3h5.2M227.1 495.4h2.9M238.9 495.4h2.9M246.0 495.4h5.2M262.6 495.4h2.9M267.3 495.4h7.6M283.9 495.4h2.9M295.7 495.4h5.2M317.0 495.4h2.9M324.1 495.4h2.9M336.0 495.4h2.9M362.0 495.4h2.9M404.6 495.4h2.9M238.9 497.6h5.2M255.5 497.6h2.9M264.9 497.6h2.9M272.0 497.6h2.9M281.5 497.6h7.6M295.7 497.6h12.3M309.9 497.6h5.2M345.4 497.6h2.9M357.3 497.6h2.9M369.1 497.6h2.9M272.0 499.7h2.9M281.5 499.7h2.9M286.2 499.7h2.9M293.3 499.7h7.6M302.8 499.7h2.9M307.6 499.7h2.9M312.3 499.7h2.9M331.2 499.7h5.2M338.3 499.7h2.9M179.7 501.8h2.9M274.4 501.8h2.9M279.1 501.8h2.9M291.0 501.8h2.9M295.7 501.8h10.0M307.6 501.8h5.2M324.1 501.8h7.6M366.7 501.8h2.9M212.9 503.9h2.9M253.1 503.9h2.9M267.3 503.9h2.9M276.8 503.9h2.9M286.2 503.9h2.9M300.5 503.9h10.0M312.3 503.9h5.2M326.5 503.9h7.6M336.0 503.9h2.9M340.7 503.9h2.9M241.3 506.0h2.9M255.5 506.0h2.9M272.0 506.0h2.9M281.5 506.0h2.9M288.6 506.0h2.9M295.7 506.0h5.2M302.8 506.0h10.0M314.7 506.0h2.9M321.8 506.0h2.9M331.2 506.0h2.9M357.3 506.0h2.9M362.0 506.0h2.9M238.9 508.2h2.9M248.4 508.2h2.9M260.2 508.2h2.9M279.1 508.2h2.9M286.2 508.2h2.9M305.2 508.2h5.2M314.7 508.2h7.6M326.5 508.2h2.9M331.2 508.2h2.9M340.7 508.2h2.9M399.9 508.2h2.9M250.7 510.3h2.9M260.2 510.3h2.9M267.3 510.3h2.9M274.4 510.3h2.9M283.9 510.3h2.9M288.6 510.3h2.9M300.5 510.3h2.9M307.6 510.3h5.2M324.1 510.3h2.9M343.1 510.3h2.9M347.8 510.3h2.9M404.6 510.3h2.9M449.6 510.3h2.9M238.9 512.4h2.9M248.4 512.4h2.9M262.6 512.4h2.9M272.0 512.4h2.9M276.8 512.4h2.9M291.0 512.4h2.9M302.8 512.4h5.2M309.9 512.4h2.9M314.7 512.4h10.0M331.2 512.4h5.2M354.9 512.4h2.9M362.0 512.4h2.9M440.1 512.4h2.9M201.0 514.5h2.9M222.3 514.5h2.9M229.4 514.5h2.9M250.7 514.5h2.9M267.3 514.5h2.9M272.0 514.5h10.0M288.6 514.5h5.2M314.7 514.5h2.9M319.4 514.5h5.2M328.9 514.5h2.9M385.7 514.5h2.9M423.6 514.5h2.9M264.9 516.7h2.9M286.2 516.7h2.9M291.0 516.7h2.9M302.8 516.7h2.9M309.9 516.7h5.2M317.0 516.7h2.9M331.2 516.7h7.6M352.5 516.7h2.9M246.0 518.8h2.9M272.0 518.8h5.2M283.9 518.8h5.2M291.0 518.8h2.9M324.1 518.8h2.9M328.9 518.8h2.9M336.0 518.8h2.9M345.4 518.8h2.9M354.9 518.8h2.9M231.8 520.9h2.9M241.3 520.9h2.9M267.3 520.9h2.9M283.9 520.9h2.9M295.7 520.9h2.9M305.2 520.9h2.9M314.7 520.9h5.2M321.8 520.9h2.9M340.7 520.9h2.9M418.8 520.9h2.9M430.7 520.9h2.9M248.4 523.0h2.9M272.0 523.0h2.9M286.2 523.0h2.9M295.7 523.0h5.2M305.2 523.0h7.6M319.4 523.0h2.9M343.1 523.0h2.9M402.3 523.0h2.9M274.4 525.1h2.9M288.6 525.1h10.0M317.0 525.1h2.9M328.9 525.1h2.9M347.8 525.1h2.9M357.3 525.1h2.9M409.4 525.1h2.9M281.5 527.3h5.2M288.6 527.3h7.6M300.5 527.3h5.2M307.6 527.3h2.9M312.3 527.3h5.2M201.0 529.4h2.9M250.7 529.4h2.9M257.8 529.4h5.2M276.8 529.4h2.9M295.7 529.4h2.9M300.5 529.4h2.9M305.2 529.4h2.9M312.3 529.4h2.9M324.1 529.4h2.9M433.0 529.4h2.9M250.7 531.5h2.9M267.3 531.5h2.9M274.4 531.5h2.9M279.1 531.5h2.9M283.9 531.5h2.9M288.6 531.5h2.9M307.6 531.5h2.9M314.7 531.5h2.9M331.2 531.5h5.2M421.2 531.5h2.9M279.1 533.6h2.9M298.1 533.6h5.2M309.9 533.6h2.9M314.7 533.6h5.2M324.1 533.6h2.9M404.6 533.6h2.9M257.8 535.7h2.9M283.9 535.7h2.9M288.6 535.7h2.9M300.5 535.7h2.9M309.9 535.7h2.9M314.7 535.7h2.9M264.9 537.9h2.9M279.1 537.9h2.9M286.2 537.9h2.9M291.0 537.9h2.9M295.7 537.9h2.9M300.5 537.9h10.0M326.5 537.9h2.9M378.6 537.9h2.9M388.1 537.9h2.9M409.4 537.9h2.9M291.0 540.0h2.9M298.1 540.0h2.9M305.2 540.0h2.9M324.1 540.0h2.9M250.7 542.1h2.9M281.5 542.1h5.2M291.0 542.1h2.9M298.1 542.1h2.9M302.8 542.1h2.9M307.6 542.1h2.9M328.9 542.1h2.9M338.3 542.1h2.9M262.6 544.2h2.9M283.9 544.2h7.6M293.3 544.2h2.9M302.8 544.2h2.9M307.6 544.2h5.2M317.0 544.2h2.9M357.3 544.2h2.9M248.4 546.3h2.9M291.0 546.3h2.9M298.1 546.3h2.9M305.2 546.3h2.9M312.3 546.3h2.9M336.0 546.3h2.9M279.1 548.5h2.9M295.7 548.5h2.9M300.5 548.5h2.9M309.9 548.5h2.9M321.8 548.5h2.9M328.9 548.5h2.9M437.8 548.5h2.9M269.7 550.6h2.9M276.8 550.6h2.9M288.6 550.6h2.9M305.2 550.6h7.6M321.8 550.6h7.6M283.9 552.7h2.9M295.7 552.7h2.9M305.2 552.7h2.9M309.9 552.7h2.9M328.9 552.7h2.9M333.6 552.7h2.9M359.6 552.7h2.9M409.4 552.7h2.9M276.8 554.8h5.2M307.6 554.8h2.9M333.6 554.8h2.9M276.8 557.0h2.9M309.9 557.0h5.2M262.6 559.1h2.9M283.9 559.1h2.9M300.5 559.1h2.9M321.8 559.1h2.9M350.2 559.1h2.9M250.7 561.2h2.9M262.6 561.2h2.9M288.6 561.2h5.2M302.8 561.2h2.9M309.9 561.2h2.9M317.0 561.2h2.9M272.0 563.3h2.9M319.4 563.3h2.9" stroke="#400e82" stroke-width="2.50" fill="none"/></g>
<g id="axes" shape-rendering="auto"><rect x="124.10" y="22.00" width="2.90" height="546.00" fill="#000"/>
<rect x="124.10" y="565.10" width="609.00" height="2.90" fill="#000"/>
<rect x="730.20" y="21.00" width="2.90" height="547.00" fill="#000"/>
<rect x="124.10" y="22.00" width="609.00" height="2.10" fill="#000"/>
<rect x="349.20" y="22.00" width="2.90" height="546.00" fill="#000"/>
<rect x="124.10" y="328.00" width="609.00" height="2.90" fill="#000"/>
<rect x="108.40" y="22.00" width="17.00" height="3.00" fill="#000"/>
<rect x="108.40" y="159.00" width="17.00" height="3.00" fill="#000"/>
<rect x="108.40" y="293.30" width="17.00" height="3.00" fill="#000"/>
<rect x="108.40" y="430.80" width="17.00" height="3.00" fill="#000"/>
<rect x="118.20" y="27.80" width="7.00" height="3.00" fill="#000"/>
<rect x="118.20" y="37.00" width="7.00" height="3.00" fill="#000"/>
<rect x="118.20" y="43.30" width="7.00" height="3.00" fill="#000"/>
<rect x="118.20" y="53.10" width="7.00" height="3.00" fill="#000"/>
<rect x="118.20" y="65.80" width="7.00" height="3.00" fill="#000"/>
<rect x="118.20" y="77.70" width="7.00" height="3.00" fill="#000"/>
<rect x="118.20" y="93.50" width="7.00" height="3.00" fill="#000"/>
<rect x="118.20" y="117.90" width="7.00" height="3.00" fill="#000"/>
<rect x="118.20" y="164.70" width="7.00" height="3.00" fill="#000"/>
<rect x="118.20" y="171.60" width="7.00" height="3.00" fill="#000"/>
<rect x="118.20" y="180.80" width="7.00" height="3.00" fill="#000"/>
<rect x="118.20" y="190.30" width="7.00" height="3.00" fill="#000"/>
<rect x="118.20" y="199.80" width="7.00" height="3.00" fill="#000"/>
<rect x="118.20" y="211.70" width="7.00" height="3.00" fill="#000"/>
<rect x="118.20" y="230.80" width="7.00" height="3.00" fill="#000"/>
<rect x="118.20" y="253.00" width="7.00" height="3.00" fill="#000"/>
<rect x="118.20" y="299.90" width="7.00" height="3.00" fill="#000"/>
<rect x="118.20" y="309.10" width="7.00" height="3.00" fill="#000"/>
<rect x="118.20" y="315.00" width="7.00" height="3.00" fill="#000"/>
<rect x="118.20" y="324.20" width="7.00" height="3.00" fill="#000"/>
<rect x="118.20" y="336.40" width="7.00" height="3.00" fill="#000"/>
<rect x="118.20" y="349.90" width="7.00" height="3.00" fill="#000"/>
<rect x="118.20" y="364.60" width="7.00" height="3.00" fill="#000"/>
<rect x="118.20" y="389.90" width="7.00" height="3.00" fill="#000"/>
<rect x="118.20" y="437.90" width="7.00" height="3.00" fill="#000"/>
<rect x="118.20" y="443.00" width="7.00" height="3.00" fill="#000"/>
<rect x="118.20" y="452.90" width="7.00" height="3.00" fill="#000"/>
<rect x="118.20" y="462.00" width="7.00" height="3.00" fill="#000"/>
<rect x="118.20" y="471.80" width="7.00" height="3.00" fill="#000"/>
<rect x="118.20" y="483.60" width="7.00" height="3.00" fill="#000"/>
<rect x="118.20" y="503.10" width="7.00" height="3.00" fill="#000"/>
<rect x="118.20" y="524.80" width="7.00" height="3.00" fill="#000"/>
<rect x="273.70" y="567.00" width="3.00" height="16.80" fill="#000"/>
<rect x="426.90" y="567.00" width="3.00" height="16.80" fill="#000"/>
<rect x="576.80" y="567.00" width="3.00" height="16.80" fill="#000"/>
<rect x="730.10" y="567.00" width="3.00" height="16.80" fill="#000"/>
<rect x="167.80" y="567.00" width="3.00" height="7.70" fill="#000"/>
<rect x="195.90" y="567.00" width="3.00" height="7.70" fill="#000"/>
<rect x="214.90" y="567.00" width="3.00" height="7.70" fill="#000"/>
<rect x="227.20" y="567.00" width="3.00" height="7.70" fill="#000"/>
<rect x="239.80" y="567.00" width="3.00" height="7.70" fill="#000"/>
<rect x="248.90" y="567.00" width="3.00" height="7.70" fill="#000"/>
<rect x="258.80" y="567.00" width="3.00" height="7.70" fill="#000"/>
<rect x="267.90" y="567.00" width="3.00" height="7.70" fill="#000"/>
<rect x="320.90" y="567.00" width="3.00" height="7.70" fill="#000"/>
<rect x="345.70" y="567.00" width="3.00" height="7.70" fill="#000"/>
<rect x="364.90" y="567.00" width="3.00" height="7.70" fill="#000"/>
<rect x="380.20" y="567.00" width="3.00" height="7.70" fill="#000"/>
<rect x="392.60" y="567.00" width="3.00" height="7.70" fill="#000"/>
<rect x="402.10" y="567.00" width="3.00" height="7.70" fill="#000"/>
<rect x="411.90" y="567.00" width="3.00" height="7.70" fill="#000"/>
<rect x="417.90" y="567.00" width="3.00" height="7.70" fill="#000"/>
<rect x="470.90" y="567.00" width="3.00" height="7.70" fill="#000"/>
<rect x="498.90" y="567.00" width="3.00" height="7.70" fill="#000"/>
<rect x="517.90" y="567.00" width="3.00" height="7.70" fill="#000"/>
<rect x="529.50" y="567.00" width="3.00" height="7.70" fill="#000"/>
<rect x="542.70" y="567.00" width="3.00" height="7.70" fill="#000"/>
<rect x="555.10" y="567.00" width="3.00" height="7.70" fill="#000"/>
<rect x="561.40" y="567.00" width="3.00" height="7.70" fill="#000"/>
<rect x="570.90" y="567.00" width="3.00" height="7.70" fill="#000"/>
<rect x="623.80" y="567.00" width="3.00" height="7.70" fill="#000"/>
<rect x="648.40" y="567.00" width="3.00" height="7.70" fill="#000"/>
<rect x="667.80" y="567.00" width="3.00" height="7.70" fill="#000"/>
<rect x="683.20" y="567.00" width="3.00" height="7.70" fill="#000"/>
<rect x="695.90" y="567.00" width="3.00" height="7.70" fill="#000"/>
<rect x="704.90" y="567.00" width="3.00" height="7.70" fill="#000"/>
<rect x="714.90" y="567.00" width="3.00" height="7.70" fill="#000"/>
<rect x="720.90" y="567.00" width="3.00" height="7.70" fill="#000"/></g>
<g id="labels"><text x="65.3" y="32.1" font-size="24.3">10</text>
<text x="92.8" y="21.3" font-size="16.5">3</text>
<text x="65.3" y="169.1" font-size="24.3">10</text>
<text x="92.8" y="158.3" font-size="16.5">2</text>
<text x="65.3" y="303.4" font-size="24.3">10</text>
<text x="92.8" y="292.6" font-size="16.5">1</text>
<text x="65.3" y="440.9" font-size="24.3">10</text>
<text x="92.8" y="430.1" font-size="16.5">0</text>
<text x="257.3" y="614.4" font-size="24.3">10</text>
<text x="284.8" y="603.8" font-size="16.5">0</text>
<text x="410.5" y="614.4" font-size="24.3">10</text>
<text x="438.0" y="603.8" font-size="16.5">1</text>
<text x="560.4" y="614.4" font-size="24.3">10</text>
<text x="587.9" y="603.8" font-size="16.5">2</text>
<text x="713.7" y="614.4" font-size="24.3">10</text>
<text x="741.2" y="603.8" font-size="16.5">3</text>
<text y="654.7" font-size="31" stroke="#000" stroke-width="0.2"><tspan x="340.70" textLength="19.84" lengthAdjust="spacingAndGlyphs">C</tspan><tspan x="360.53" textLength="21.70" lengthAdjust="spacingAndGlyphs">D</tspan><tspan x="384.96" textLength="14.65" lengthAdjust="spacingAndGlyphs">1</tspan><tspan x="401.56" textLength="14.65" lengthAdjust="spacingAndGlyphs">1</tspan><tspan x="415.32" textLength="19.83" lengthAdjust="spacingAndGlyphs">7</tspan><tspan x="435.13" textLength="11.05" lengthAdjust="spacingAndGlyphs">-</tspan><tspan x="447.39" textLength="17.17" lengthAdjust="spacingAndGlyphs">B</tspan><tspan x="465.43" textLength="7.75" lengthAdjust="spacingAndGlyphs">I</tspan><tspan x="473.75" textLength="22.22" lengthAdjust="spacingAndGlyphs">O</tspan><tspan x="494.01" textLength="16.10" lengthAdjust="spacingAndGlyphs">T</tspan></text>
<text transform="translate(46.9 364) rotate(-90)" y="0" font-size="32" stroke="#000" stroke-width="0.2"><tspan x="-0.28" textLength="19.61" lengthAdjust="spacingAndGlyphs">C</tspan><tspan x="19.53" textLength="20.85" lengthAdjust="spacingAndGlyphs">D</tspan><tspan x="41.09" textLength="19.54" lengthAdjust="spacingAndGlyphs">4</tspan><tspan x="61.99" textLength="15.48" lengthAdjust="spacingAndGlyphs">5</tspan><tspan x="78.70" textLength="18.49" lengthAdjust="spacingAndGlyphs">R</tspan><tspan x="97.19" textLength="9.82" lengthAdjust="spacingAndGlyphs">-</tspan><tspan x="108.14" textLength="16.01" lengthAdjust="spacingAndGlyphs">P</tspan><tspan x="123.03" textLength="16.01" lengthAdjust="spacingAndGlyphs">E</tspan></text>
<text y="706.4" font-size="15.5" stroke="#000" stroke-width="0.25" xml:space="preserve"><tspan x="14.9" textLength="66.9" lengthAdjust="spacingAndGlyphs">BALB/c </tspan><tspan x="81.8" textLength="60.7" lengthAdjust="spacingAndGlyphs">mouse </tspan><tspan x="142.5" textLength="50.1" lengthAdjust="spacingAndGlyphs">bone </tspan><tspan x="192.6" textLength="69.6" lengthAdjust="spacingAndGlyphs">marrow </tspan><tspan x="262.2" textLength="42.7" lengthAdjust="spacingAndGlyphs">cells </tspan><tspan x="304.9" textLength="47.5" lengthAdjust="spacingAndGlyphs">were </tspan><tspan x="352.4" textLength="65.1" lengthAdjust="spacingAndGlyphs">stained </tspan><tspan x="417.5" textLength="43.4" lengthAdjust="spacingAndGlyphs">with </tspan><tspan x="460.9" textLength="33.1" lengthAdjust="spacingAndGlyphs">Rat </tspan><tspan x="494.0" textLength="99.2" lengthAdjust="spacingAndGlyphs">Anti-Mouse</tspan></text>
<text y="727.4" font-size="15.5" stroke="#000" stroke-width="0.25" xml:space="preserve"><tspan x="15.3" textLength="107.5" lengthAdjust="spacingAndGlyphs">CD117-BIOT </tspan><tspan x="122.8" textLength="32.0" lengthAdjust="spacingAndGlyphs">(SB </tspan><tspan x="154.8" textLength="38.5" lengthAdjust="spacingAndGlyphs">Cat. </tspan><tspan x="193.3" textLength="36.1" lengthAdjust="spacingAndGlyphs">No. </tspan><tspan x="229.4" textLength="82.5" lengthAdjust="spacingAndGlyphs">1885-08) </tspan><tspan x="311.9" textLength="35.8" lengthAdjust="spacingAndGlyphs">and </tspan><tspan x="347.7" textLength="32.5" lengthAdjust="spacingAndGlyphs">Rat </tspan><tspan x="380.2" textLength="105.4" lengthAdjust="spacingAndGlyphs">Anti-Mouse </tspan><tspan x="485.6" textLength="89.3" lengthAdjust="spacingAndGlyphs">CD45R-PE </tspan><tspan x="574.9" textLength="32.1" lengthAdjust="spacingAndGlyphs">(SB </tspan><tspan x="607.0" textLength="38.4" lengthAdjust="spacingAndGlyphs">Cat. </tspan><tspan x="645.4" textLength="28.5" lengthAdjust="spacingAndGlyphs">No.</tspan></text>
<text y="748.3" font-size="15.5" stroke="#000" stroke-width="0.25" xml:space="preserve"><tspan x="15.1" textLength="83.3" lengthAdjust="spacingAndGlyphs">1665-09) </tspan><tspan x="98.4" textLength="76.0" lengthAdjust="spacingAndGlyphs">followed </tspan><tspan x="174.4" textLength="26.7" lengthAdjust="spacingAndGlyphs">by </tspan><tspan x="201.1" textLength="150.8" lengthAdjust="spacingAndGlyphs">Streptavidin-FITC </tspan><tspan x="351.9" textLength="32.0" lengthAdjust="spacingAndGlyphs">(SB </tspan><tspan x="383.9" textLength="38.2" lengthAdjust="spacingAndGlyphs">Cat. </tspan><tspan x="422.1" textLength="37.8" lengthAdjust="spacingAndGlyphs">No. </tspan><tspan x="459.9" textLength="80.8" lengthAdjust="spacingAndGlyphs">7100-02).</tspan></text></g>
</svg>
</body></html>
